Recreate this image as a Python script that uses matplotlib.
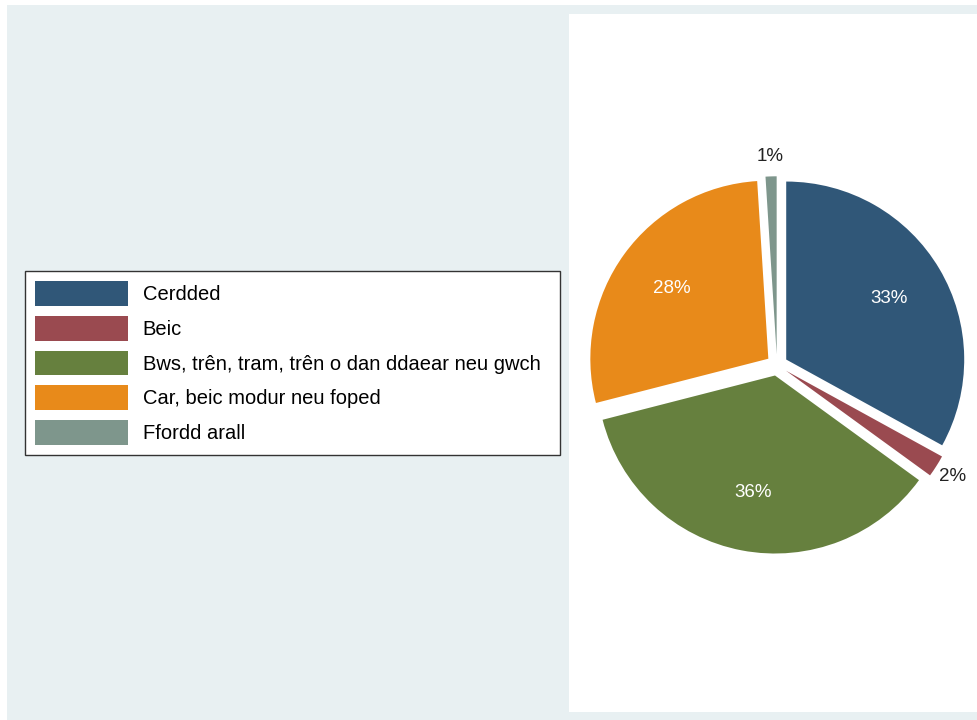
import numpy as np
import matplotlib
matplotlib.use('Agg')
import matplotlib.pyplot as plt
from matplotlib.patches import Rectangle

plt.rcParams['font.family'] = ['Liberation Sans', 'DejaVu Sans']

# data
categories = ['Cerdded', 'Beic', 'Bws, trên, tram, trên o dan ddaear neu gwch',
              'Car, beic modur neu foped', 'Ffordd arall']
shares = [33, 2, 36, 28, 1]
colors = ['#305778', '#9a4a50', '#66803e', '#e88a1a', '#7e968c']

W, H = 978, 720
fig = plt.figure(figsize=(W / 100, H / 100), dpi=100)
fig.patch.set_facecolor('white')

# light page background
fig.patches.append(Rectangle((7 / W, 0), 1 - 7 / W, 1 - 5 / H, transform=fig.transFigure,
                             facecolor='#e8f0f2', edgecolor='none', zorder=-5))

# white panel holding the pie (data coords = pixels)
px0, px1, py0, py1 = 569, 978, 8, 706
ax = fig.add_axes([px0 / W, py0 / H, (px1 - px0) / W, (py1 - py0) / H])
ax.set_zorder(2)
ax.set_facecolor('white')

cx, cy, r = 777, 355, 178
explode = [10.7] * len(shares)   # pie offsets are in data units (pixels here)
wedges, texts, autotexts = ax.pie(shares, colors=colors, startangle=90, counterclock=False,
                                  center=(cx, cy), radius=r, explode=explode,
                                  autopct='%d%%', pctdistance=0.67,
                                  textprops=dict(color='white', fontsize=13.5),
                                  frame=True)
for s in ax.spines.values():
    s.set_visible(False)
ax.set_xticks([])
ax.set_yticks([])
ax.set_xlim(px0, px1)
ax.set_ylim(py0, py1)
ax.set_aspect('auto')

# small slices get their label outside
for w, t, v in zip(wedges, autotexts, shares):
    if v < 5:
        ang = np.deg2rad((w.theta1 + w.theta2) / 2)
        d = r * 1.17
        t.set_position((cx + d * np.cos(ang), cy + d * np.sin(ang)))
        t.set_color('#222222')
        t.set_ha('center')

leg = fig.legend(wedges, categories, loc='upper left',
                 bbox_to_anchor=(25 / W, (720 - 455) / H, 535 / W, 184 / H), mode='expand',
                 borderaxespad=0,
                 fontsize=14.5, handlelength=4.6, handleheight=1.53,
                 handletextpad=0.75, labelspacing=0.485, borderpad=0.5,
                 fancybox=False, framealpha=1, edgecolor='#333333')
leg.get_frame().set_linewidth(1.0)
leg.set_zorder(3)

fig.savefig('out.png', dpi=100)
